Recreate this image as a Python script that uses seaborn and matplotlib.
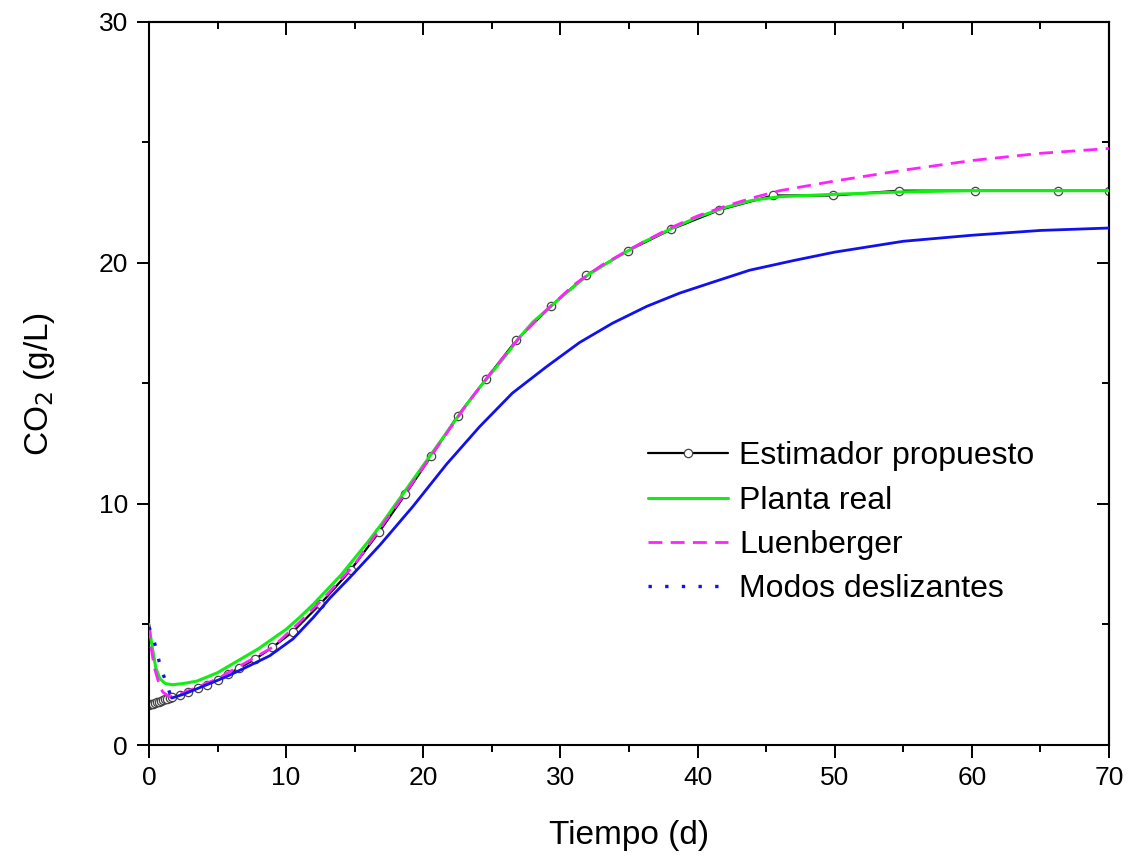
import numpy as np
import pandas as pd
import seaborn as sns
import matplotlib.pyplot as plt

# =========================
# DATA
# =========================

# Estimador propuesto (marker points)
est_t = [0.0, 0.15, 0.3, 0.45, 0.6, 0.75, 0.9, 1.05, 1.2, 1.35, 1.5, 1.7,
         2.3, 2.85, 3.55, 4.2, 5.0, 5.8, 6.6, 7.7, 9.0, 10.5, 12.5, 14.7,
         16.8, 18.7, 20.6, 22.5, 24.6, 26.8, 29.3, 31.9, 34.9, 38.1, 41.6,
         45.5, 49.9, 54.7, 60.2, 66.3, 70.0]
est_y = [1.68, 1.70, 1.72, 1.75, 1.78, 1.80, 1.83, 1.86, 1.89, 1.92, 1.95, 1.98,
         2.07, 2.20, 2.37, 2.50, 2.70, 2.95, 3.20, 3.55, 4.05, 4.70, 5.85, 7.25,
         8.85, 10.4, 12.0, 13.65, 15.2, 16.8, 18.2, 19.5, 20.5, 21.4, 22.2,
         22.8, 22.8, 23.0, 23.0, 23.0, 23.0]

# Planta real
planta_t = [0.0, 0.2, 0.5, 0.8, 1.2, 1.7, 2.5, 3.5, 5.0, 6.5, 8.0, 10.0, 11.0,
            12.0, 13.0, 14.0, 15.0, 16.0, 17.0, 18.0, 19.0, 20.0, 21.0, 22.0,
            23.0, 24.0, 25.0, 26.0, 27.0, 28.0, 29.0, 30.0, 32.0, 34.0, 36.0,
            38.0, 40.0, 42.0, 44.0, 46.0, 48.0, 50.0, 55.0, 60.0, 65.0, 70.0]
planta_y = [5.0, 4.2, 3.2, 2.75, 2.55, 2.5, 2.55, 2.65, 3.0, 3.5, 4.0, 4.8, 5.3,
            5.85, 6.45, 7.05, 7.75, 8.45, 9.2, 10.0, 10.8, 11.6, 12.4, 13.2,
            14.0, 14.75, 15.45, 16.15, 16.9, 17.55, 18.05, 18.55, 19.5, 20.2, 20.85,
            21.4, 21.9, 22.3, 22.6, 22.75, 22.8, 22.85, 22.95, 23.0, 23.0, 23.0]

# Luenberger
luen_t = [0.0, 0.15, 0.4, 0.65, 1.0, 1.5, 2.0, 3.0, 5.0, 7.0, 9.0, 11.0, 13.0,
          15.0, 17.0, 19.0, 21.0, 23.0, 25.0, 27.0, 29.0, 31.0, 33.0, 35.0,
          38.0, 40.0, 42.0, 44.0, 46.0, 48.0, 50.0, 55.0, 60.0, 65.0, 70.0]
luen_y = [5.0, 4.05, 3.2, 2.7, 2.2, 2.0, 2.05, 2.28, 2.75, 3.4, 4.05, 5.1, 6.25,
          7.5, 9.1, 10.7, 12.35, 14.0, 15.5, 16.9, 18.05, 19.1, 19.9, 20.55,
          21.45, 21.95, 22.35, 22.7, 23.0, 23.2, 23.4, 23.85, 24.25, 24.55, 24.75]

# Modos deslizantes (fast transient, then slow part)
modos_t0 = [0.0, 0.3, 0.55, 0.75, 1.0, 1.3, 1.65]
modos_y0 = [4.9, 4.45, 3.95, 3.45, 3.0, 2.5, 1.95]
modos_t = [1.65, 2.5, 4.0, 5.5, 7.0, 8.8, 10.5, 12.0, 13.2, 14.65, 16.85,
           19.25, 21.7, 24.1, 26.5, 29.0, 31.4, 33.8, 36.3, 38.7, 41.1, 43.8,
           47.0, 50.0, 55.0, 60.0, 65.0, 70.0]
modos_y = [1.95, 2.1, 2.45, 2.8, 3.2, 3.7, 4.4, 5.3, 6.1, 6.95, 8.3,
           9.9, 11.65, 13.2, 14.6, 15.7, 16.7, 17.5, 18.2, 18.75, 19.2, 19.7,
           20.1, 20.45, 20.9, 21.15, 21.35, 21.45]

# =========================
# PLOT
# =========================

sns.set_style("white")
plt.rcParams["font.family"] = ["Liberation Sans", "DejaVu Sans"]
plt.rcParams["text.color"] = "black"
plt.rcParams["axes.labelcolor"] = "black"
plt.rcParams["xtick.color"] = "black"
plt.rcParams["ytick.color"] = "black"

fig = plt.figure(figsize=(11.37, 8.58), dpi=100)
ax = fig.add_axes([0.131, 0.1317, 0.8443, 0.8427])

sns.lineplot(x=est_t, y=est_y, ax=ax, color="black", lw=1.6, marker="o",
             markersize=6, markerfacecolor="white", markeredgecolor="#444444",
             markeredgewidth=0.9, sort=False, estimator=None,
             label="Estimador propuesto", zorder=2)
sns.lineplot(x=planta_t, y=planta_y, ax=ax, color="#11ee11", lw=2.2,
             sort=False, estimator=None, label="Planta real", zorder=3)
sns.lineplot(x=luen_t, y=luen_y, ax=ax, color="#ff22ff", lw=2.0,
             dashes=False, linestyle=(0, (5, 3)), sort=False, estimator=None,
             label="Luenberger", zorder=4)
sns.lineplot(x=modos_t0, y=modos_y0, ax=ax, color="#1111ee", lw=2.4,
             linestyle=(0, (1, 4)), sort=False, estimator=None,
             label="Modos deslizantes", zorder=4)
sns.lineplot(x=modos_t, y=modos_y, ax=ax, color="#1111ee", lw=2.0,
             sort=False, estimator=None, zorder=4)

ax.set_xlim(0, 70)
ax.set_ylim(0, 30)
ax.set_xticks(np.arange(0, 71, 10))
ax.set_xticks(np.arange(0, 71, 5), minor=True)
ax.set_yticks(np.arange(0, 31, 10))
ax.set_yticks(np.arange(0, 31, 5), minor=True)

for sp in ax.spines.values():
    sp.set_linewidth(1.5)
    sp.set_color("black")

ax.tick_params(which="major", direction="out", length=9, width=1.4,
               labelsize=19, pad=6, bottom=True, left=True, colors="black")
ax.tick_params(which="minor", direction="out", length=5, width=1.4,
               bottom=True, left=True, colors="black")

# inward ticks on top and right, no labels
top = ax.secondary_xaxis("top")
top.set_xticks(np.arange(0, 71, 10))
top.set_xticks(np.arange(0, 71, 5), minor=True)
top.tick_params(which="major", direction="in", length=9, width=1.4, labeltop=False)
top.tick_params(which="minor", direction="in", length=5, width=1.4)
top.spines["top"].set_linewidth(1.5)
right = ax.secondary_yaxis("right")
right.set_yticks(np.arange(0, 31, 10))
right.set_yticks(np.arange(0, 31, 5), minor=True)
right.tick_params(which="major", direction="in", length=9, width=1.4, labelright=False)
right.tick_params(which="minor", direction="in", length=5, width=1.4)
right.spines["right"].set_linewidth(1.5)

ax.set_xlabel("Tiempo (d)", fontsize=24, labelpad=22)
ax.set_ylabel("CO$_2$ (g/L)", fontsize=24, labelpad=30)

ax.legend(loc="upper left", bbox_to_anchor=(0.52, 0.42), frameon=False,
          fontsize=23, handlelength=2.5, handletextpad=0.35, labelspacing=0.45,
          borderaxespad=0, borderpad=0, numpoints=1)

plt.savefig("out.png", dpi=100)
